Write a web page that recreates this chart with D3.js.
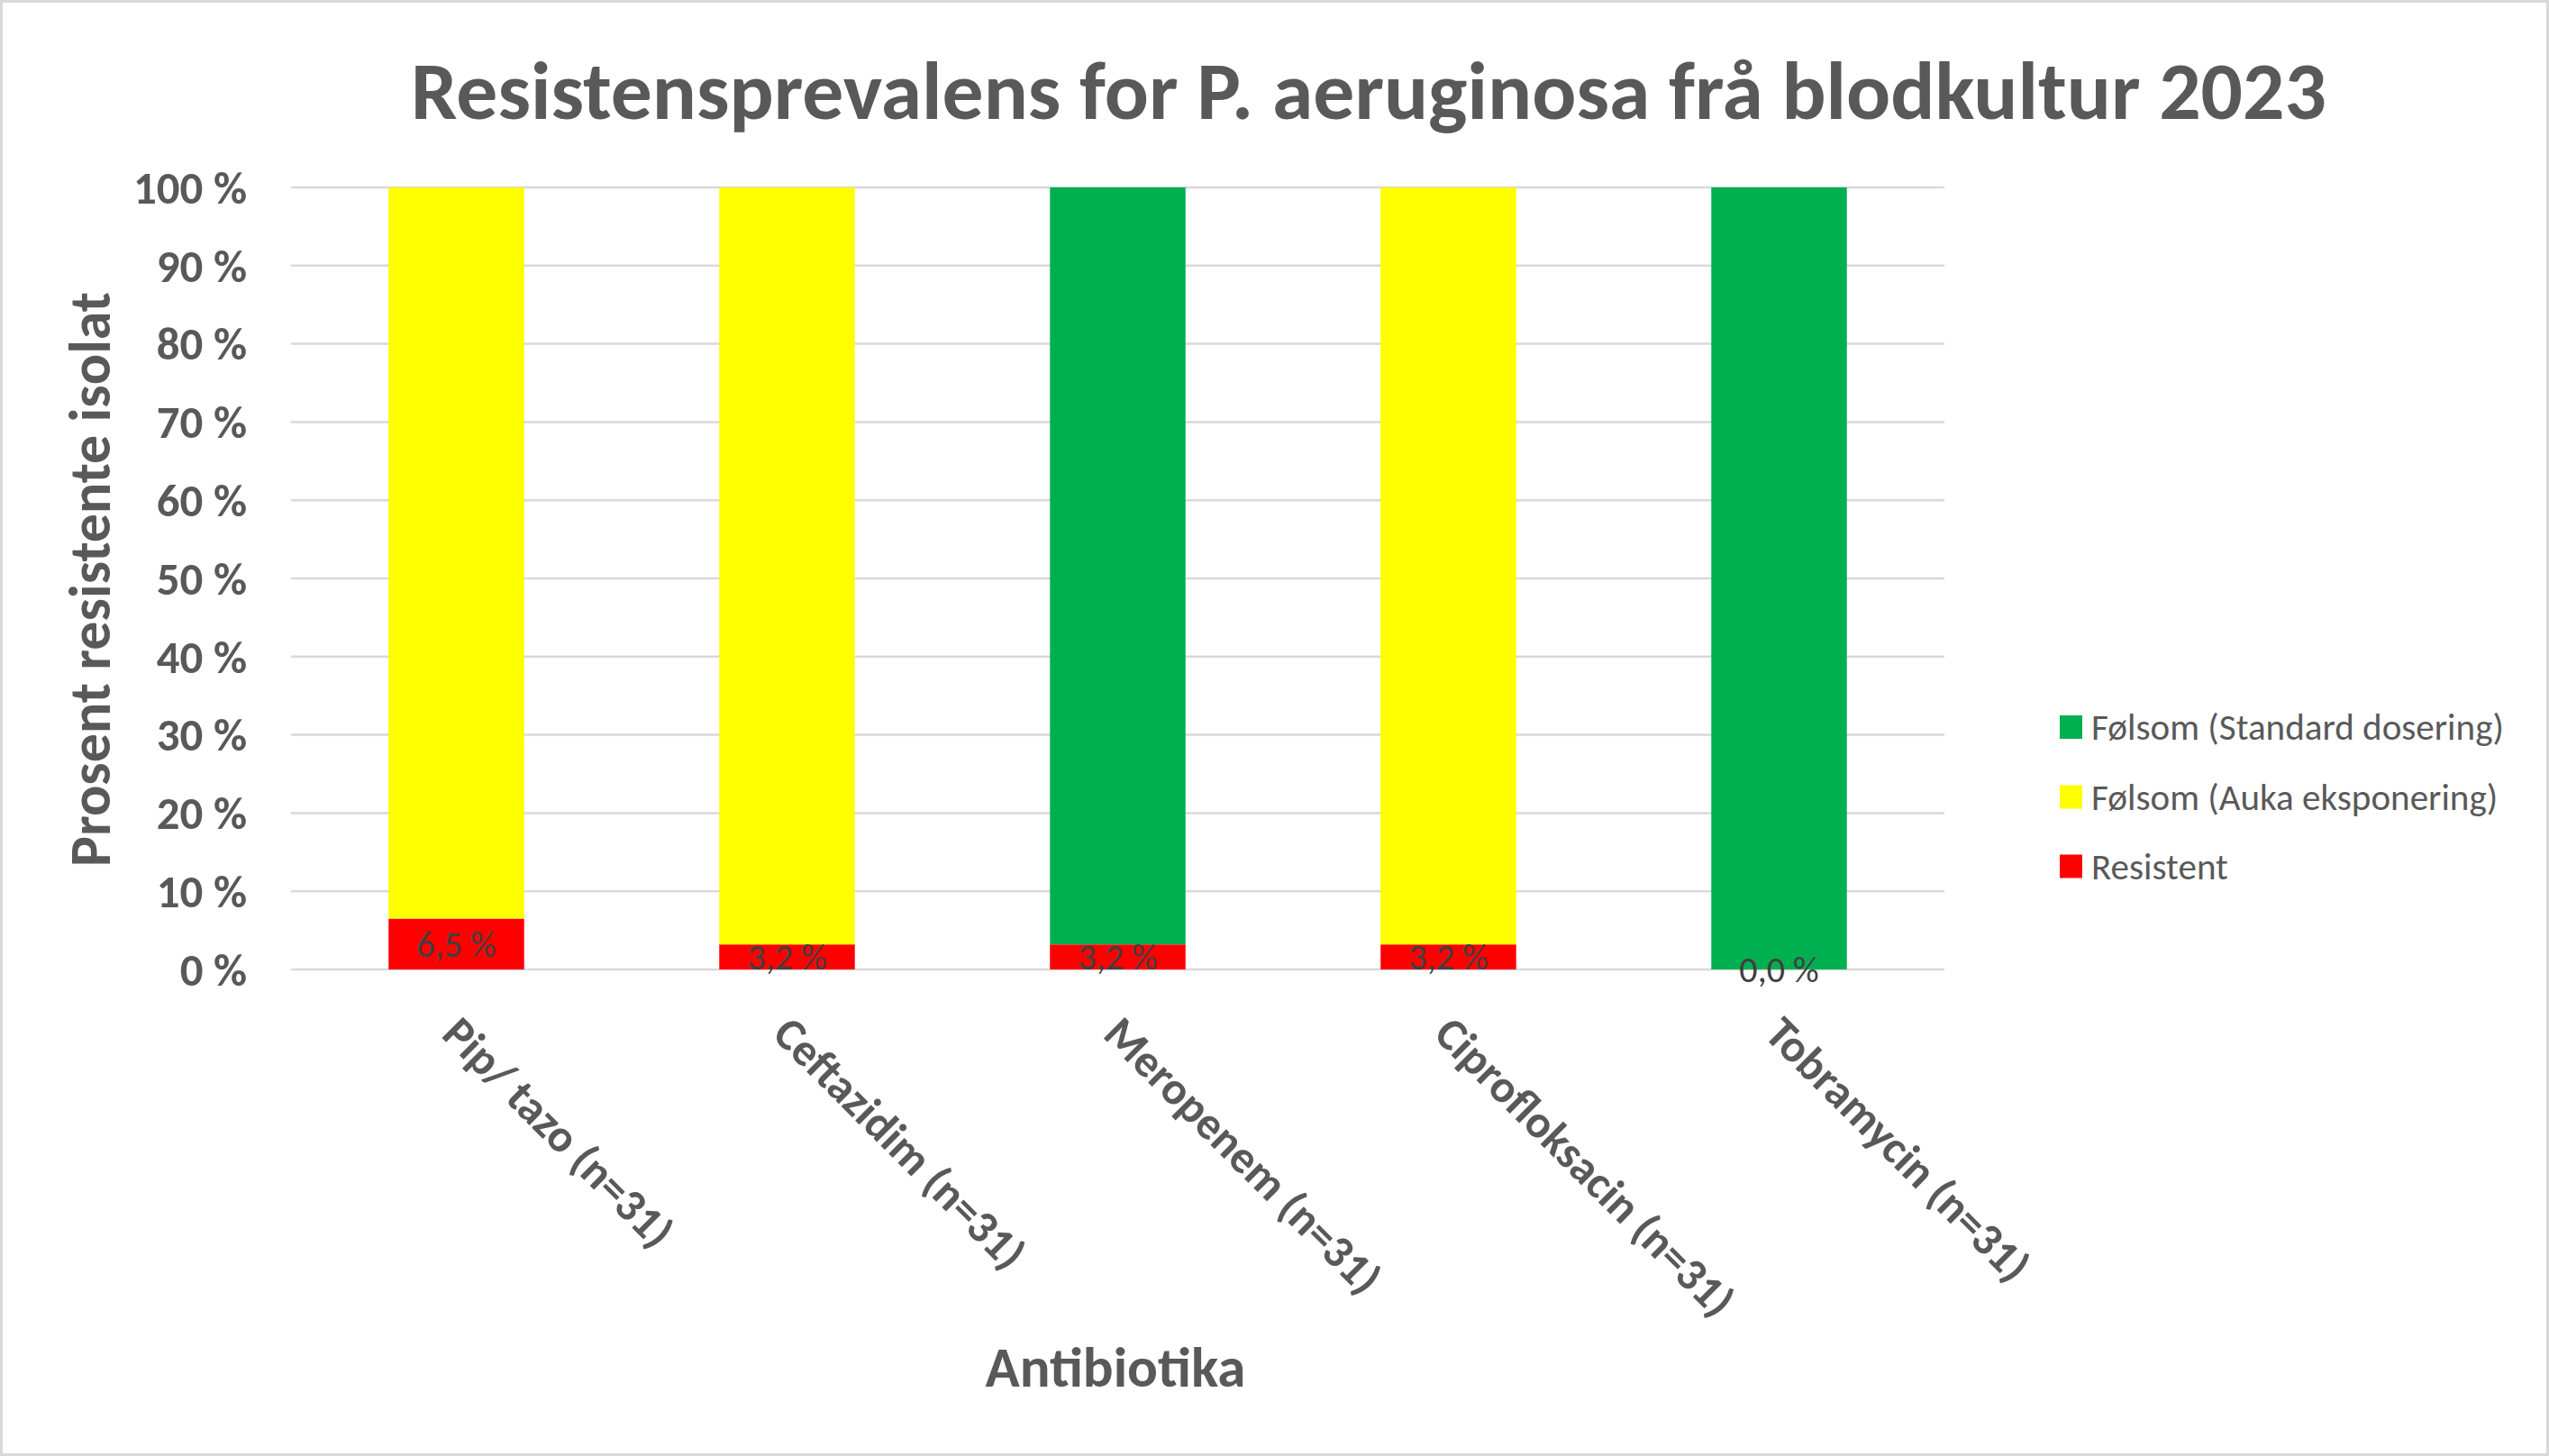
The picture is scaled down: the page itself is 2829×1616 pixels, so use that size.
<!DOCTYPE html>
<html>
<head>
<meta charset="utf-8">
<script src="https://cdn.jsdelivr.net/npm/d3@7"></script>
<style>
  html, body { margin: 0; padding: 0; background: #fff; }
  svg { display: block; }
</style>
</head>
<body>
<script>
// data
var categories = ["Pip/ tazo (n=31)", "Ceftazidim (n=31)", "Meropenem (n=31)", "Ciprofloksacin (n=31)", "Tobramycin (n=31)"];
var resistent = [6.5, 3.2, 3.2, 3.2, 0.0];
var aukaEksponering = [93.5, 96.8, 0, 96.8, 0];
var standardDosering = [0, 0, 96.8, 0, 100];
var seriesKeys = ["resistent", "auka", "standard"];
var legendNames = ["Følsom (Standard dosering)", "Følsom (Auka eksponering)", "Resistent"];
var legendKeys = ["standard", "auka", "resistent"];
var colors = { standard: "#00b050", auka: "#ffff00", resistent: "#ff0000" };
var yTicks = [0, 10, 20, 30, 40, 50, 60, 70, 80, 90, 100];

var _width = 2829,
    _height = 1616,
    _font = "Carlito, Calibri, Lato, sans-serif",
    _text = "#595959",
    _plot = { left: 323, right: 2158, top: 208, bottom: 1076 };

var rows = categories.map(function(c, i){
    return { cat: c, resistent: resistent[i], auka: aukaEksponering[i], standard: standardDosering[i] };
});

var svg = d3.select("body").append("svg")
    .attr("width", _width)
    .attr("height", _height);

svg.append("rect")
    .attr("x", 1.5).attr("y", 1.5)
    .attr("width", _width - 3).attr("height", _height - 3)
    .attr("fill", "#fff")
    .attr("stroke", "#d9d9d9")
    .attr("stroke-width", 3);

// fits a text to the width it has in the picture, returns the size ratio
var _fit = function(sel, target){
    var fs = parseFloat(sel.attr("font-size"));
    var w = sel.node().getComputedTextLength();
    sel.attr("font-size", fs * target / w);
    return target / w;
};

var x = d3.scaleBand().domain(categories).range([_plot.left, _plot.right]).paddingInner(0.59).paddingOuter(0.295);
var y = d3.scaleLinear().domain([0, 100]).range([_plot.bottom, _plot.top]);

// title
var title = svg.append("text")
    .attr("x", 1519).attr("y", 132)
    .attr("text-anchor", "middle")
    .attr("font-family", _font).attr("font-weight", "bold")
    .attr("font-size", 90)
    .attr("fill", _text)
    .text("Resistensprevalens for P. aeruginosa frå blodkultur 2023");
var kBold = _fit(title, 2126);

// grid
svg.append("g").selectAll("line").data(yTicks).enter().append("line")
    .attr("x1", _plot.left).attr("x2", _plot.right)
    .attr("y1", function(d){ return y(d); })
    .attr("y2", function(d){ return y(d); })
    .attr("stroke", "#d9d9d9")
    .attr("stroke-width", 2.5);

// y axis
var yAxis = d3.axisLeft(y).tickValues(yTicks).tickSize(0).tickPadding(0)
    .tickFormat(function(d){ return d + " %"; });
var gy = svg.append("g").attr("transform", "translate(274,0)").call(yAxis);
gy.select(".domain").remove();
gy.selectAll("text")
    .attr("font-family", _font).attr("font-weight", "bold")
    .attr("font-size", 50 * kBold)
    .attr("fill", _text)
    .attr("dy", "0.34em");

// bars
var stack = d3.stack().keys(seriesKeys)(rows);
svg.append("g").selectAll("g").data(stack).enter().append("g")
    .attr("fill", function(s){ return colors[s.key]; })
    .selectAll("rect").data(function(s){ return s; }).enter().append("rect")
    .attr("x", function(d){ return x(d.data.cat); })
    .attr("width", x.bandwidth())
    .attr("y", function(d){ return y(d[1]); })
    .attr("height", function(d){ return y(d[0]) - y(d[1]); });

// data labels for resistant share
svg.append("g").selectAll("text").data(stack[0]).enter().append("text")
    .attr("x", function(d){ return x(d.data.cat) + x.bandwidth() / 2; })
    .attr("y", function(d){ return y((d[0] + d[1]) / 2); })
    .attr("dy", "0.35em")
    .attr("text-anchor", "middle")
    .attr("font-family", _font)
    .attr("font-size", 40)
    .attr("fill", "#404040")
    .text(function(d){ return d3.format(".1f")(d.data.resistent).replace(".", ",") + " %"; });

// x axis labels, rotated
var xAxis = d3.axisBottom(x).tickSize(0).tickPadding(0);
var gx = svg.append("g").attr("transform", "translate(0," + _plot.bottom + ")").call(xAxis);
gx.select(".domain").remove();
gx.selectAll(".tick text")
    .attr("font-family", _font).attr("font-weight", "bold")
    .attr("font-size", 50 * kBold)
    .attr("fill", _text)
    .attr("text-anchor", "start")
    .attr("x", 0).attr("y", 0).attr("dy", "0.72em")
    .attr("transform", "translate(8,48) rotate(45)");

// axis titles
var yTitle = svg.append("text")
    .attr("transform", "translate(122,643) rotate(-90)")
    .attr("text-anchor", "middle")
    .attr("font-family", _font).attr("font-weight", "bold")
    .attr("font-size", 64)
    .attr("fill", _text)
    .text("Prosent resistente isolat");
_fit(yTitle, 638);

var xTitle = svg.append("text")
    .attr("x", 1238).attr("y", 1539)
    .attr("text-anchor", "middle")
    .attr("font-family", _font).attr("font-weight", "bold")
    .attr("font-size", 62)
    .attr("fill", _text)
    .text("Antibiotika");
_fit(xTitle, 289);

// legend
var legendY = [807, 884.5, 961.5];
var lg = svg.append("g").selectAll("g").data(legendKeys).enter().append("g")
    .attr("transform", function(d, i){ return "translate(2286," + legendY[i] + ")"; });
lg.append("rect")
    .attr("x", 0).attr("y", -13)
    .attr("width", 25).attr("height", 26)
    .attr("fill", function(d){ return colors[d]; });
var lt = lg.append("text")
    .attr("x", 35).attr("dy", "0.35em")
    .attr("font-family", _font)
    .attr("font-size", 41)
    .attr("fill", _text)
    .text(function(d, i){ return legendNames[i]; });
var kReg = _fit(d3.select(lt.nodes()[0]), 458);
lt.attr("font-size", 41 * kReg);
svg.selectAll("text").filter(function(){ return this.textContent.indexOf("%") > 0 && d3.select(this).attr("fill") === "#404040"; })
    .attr("font-size", 40 * kReg);
</script>
</body>
</html>
